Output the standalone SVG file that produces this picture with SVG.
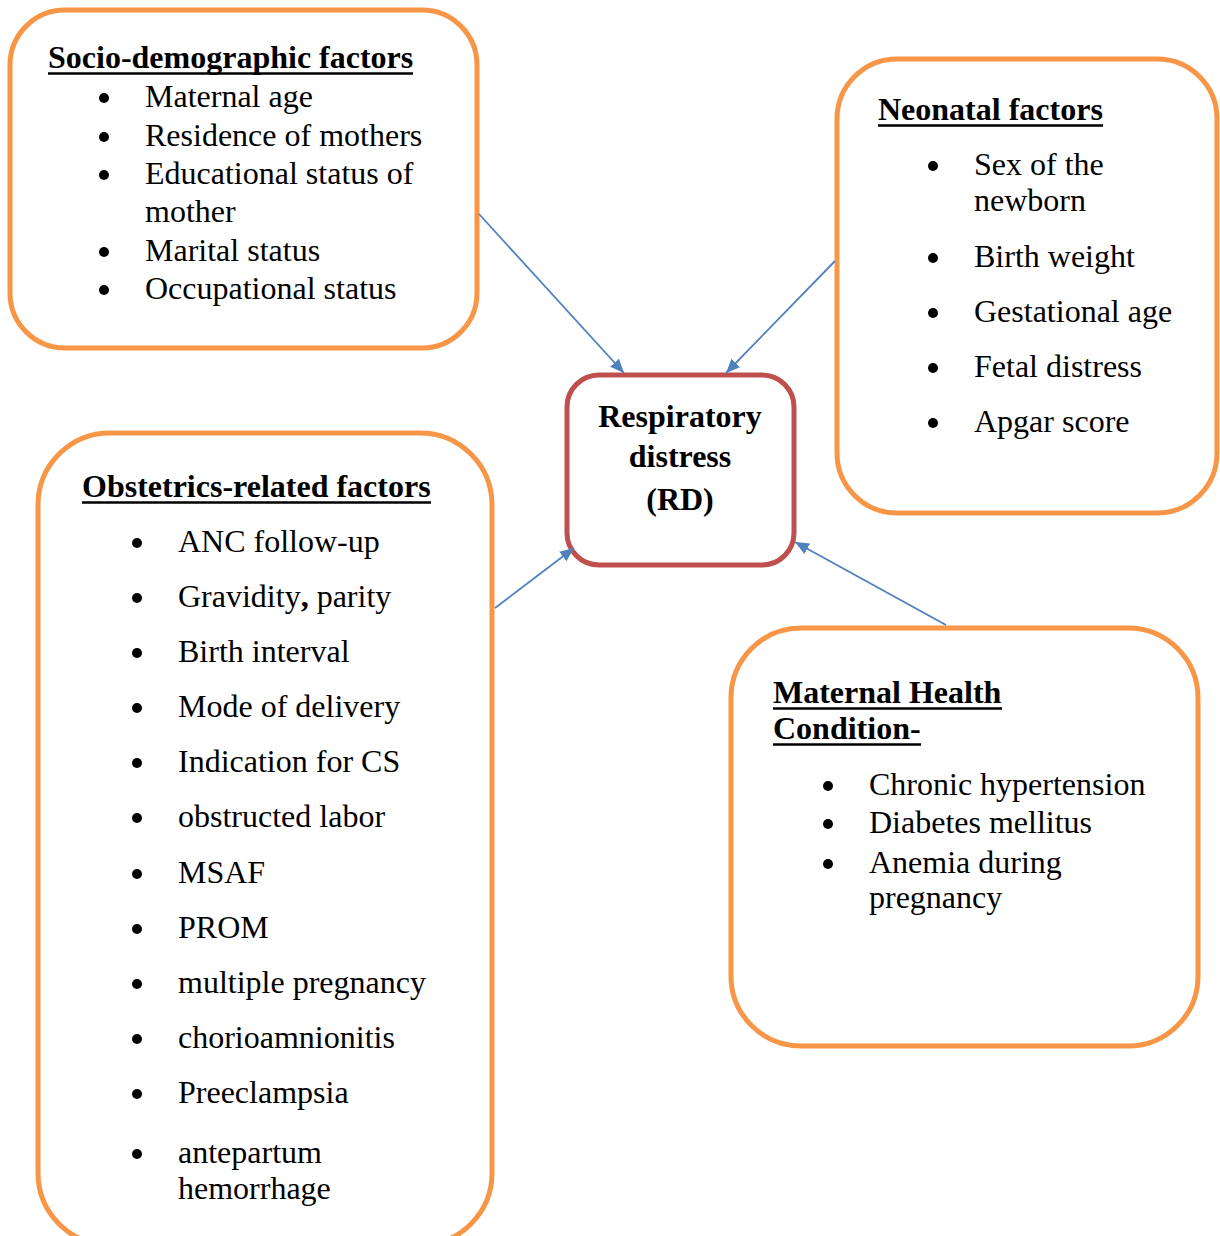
<svg xmlns="http://www.w3.org/2000/svg" width="1220" height="1236" viewBox="0 0 1220 1236">
<style>
.box{fill:#fff;stroke:#F79646;stroke-width:5}
.core{fill:#fff;stroke:#C0504D;stroke-width:5}
.t{font-family:"Liberation Serif","Times New Roman",serif;font-size:32px;fill:#000}
.h{font-family:"Liberation Serif","Times New Roman",serif;font-size:32px;font-weight:bold;fill:#000}
.ul{stroke:#000;stroke-width:2.5}
.b{fill:#000}
.c{stroke:#4F81BD;stroke-width:1.8;fill:none;marker-end:url(#ah)}
</style>
<defs>
<marker id="ah" markerUnits="userSpaceOnUse" markerWidth="16" markerHeight="14" refX="14" refY="6" orient="auto">
<path d="M0,0 L14,6 L0,12 Z" fill="#4F81BD"/>
</marker>
</defs>
<rect width="1220" height="1236" fill="#fff"/>

<g id="socio">
<rect class="box" x="10" y="10" width="467" height="338" rx="55"/>
<text class="h" x="48" y="68">Socio-demographic factors</text>
<line class="ul" x1="48" y1="73.5" x2="413" y2="73.5"/>
<circle class="b" cx="104" cy="98" r="5"/><text class="t" x="145" y="107">Maternal age</text>
<circle class="b" cx="104" cy="137" r="5"/><text class="t" x="145" y="146">Residence of mothers</text>
<circle class="b" cx="104" cy="175" r="5"/><text class="t" x="145" y="184">Educational status of</text>
<text class="t" x="145" y="222">mother</text>
<circle class="b" cx="104" cy="252" r="5"/><text class="t" x="145" y="261">Marital status</text>
<circle class="b" cx="104" cy="290" r="5"/><text class="t" x="145" y="299">Occupational status</text>
</g>

<g id="neonatal">
<rect class="box" x="837" y="59" width="380" height="454" rx="60"/>
<text class="h" x="878" y="120">Neonatal factors</text>
<line class="ul" x1="878" y1="125.5" x2="1103" y2="125.5"/>
<circle class="b" cx="933" cy="166" r="5"/><text class="t" x="974" y="175">Sex of the</text>
<text class="t" x="974" y="211">newborn</text>
<circle class="b" cx="933" cy="258" r="5"/><text class="t" x="974" y="267">Birth weight</text>
<circle class="b" cx="933" cy="313" r="5"/><text class="t" x="974" y="322">Gestational age</text>
<circle class="b" cx="933" cy="368" r="5"/><text class="t" x="974" y="377">Fetal distress</text>
<circle class="b" cx="933" cy="423" r="5"/><text class="t" x="974" y="432">Apgar score</text>
</g>

<g id="rd">
<rect class="core" x="567" y="375" width="227" height="190" rx="32"/>
<text class="h" x="680" y="427" text-anchor="middle">Respiratory</text>
<text class="h" x="680" y="467" text-anchor="middle">distress</text>
<text class="h" x="680" y="510" text-anchor="middle">(RD)</text>
</g>

<g id="obstetrics">
<rect class="box" x="38" y="433" width="454" height="812" rx="72"/>
<text class="h" x="82" y="497">Obstetrics-related factors</text>
<line class="ul" x1="82" y1="502.5" x2="431" y2="502.5"/>
<circle class="b" cx="137" cy="543" r="5"/><text class="t" x="178" y="552">ANC follow-up</text>
<circle class="b" cx="137" cy="598" r="5"/><text class="t" x="178" y="607">Gravidity<tspan font-weight="bold">,</tspan> parity</text>
<circle class="b" cx="137" cy="653" r="5"/><text class="t" x="178" y="662">Birth interval</text>
<circle class="b" cx="137" cy="708" r="5"/><text class="t" x="178" y="717">Mode of delivery</text>
<circle class="b" cx="137" cy="763" r="5"/><text class="t" x="178" y="772">Indication for CS</text>
<circle class="b" cx="137" cy="818" r="5"/><text class="t" x="178" y="827">obstructed labor</text>
<circle class="b" cx="137" cy="874" r="5"/><text class="t" x="178" y="883">MSAF</text>
<circle class="b" cx="137" cy="929" r="5"/><text class="t" x="178" y="938">PROM</text>
<circle class="b" cx="137" cy="984" r="5"/><text class="t" x="178" y="993">multiple pregnancy</text>
<circle class="b" cx="137" cy="1039" r="5"/><text class="t" x="178" y="1048">chorioamnionitis</text>
<circle class="b" cx="137" cy="1094" r="5"/><text class="t" x="178" y="1103">Preeclampsia</text>
<circle class="b" cx="137" cy="1154" r="5"/><text class="t" x="178" y="1163">antepartum</text>
<text class="t" x="178" y="1199">hemorrhage</text>
</g>

<g id="maternal">
<rect class="box" x="731" y="628" width="467" height="418" rx="70"/>
<text class="h" x="773" y="703">Maternal Health</text>
<line class="ul" x1="773" y1="708.5" x2="1002" y2="708.5"/>
<text class="h" x="773" y="739">Condition-</text>
<line class="ul" x1="773" y1="744.5" x2="921" y2="744.5"/>
<circle class="b" cx="828" cy="786" r="5"/><text class="t" x="869" y="795">Chronic hypertension</text>
<circle class="b" cx="828" cy="824" r="5"/><text class="t" x="869" y="833">Diabetes mellitus</text>
<circle class="b" cx="828" cy="864" r="5"/><text class="t" x="869" y="873">Anemia during</text>
<text class="t" x="869" y="908">pregnancy</text>
</g>

<g id="connectors">
<line class="c" x1="479" y1="214" x2="624" y2="373"/>
<line class="c" x1="835" y1="261" x2="726" y2="373"/>
<line class="c" x1="495" y1="608" x2="574" y2="548"/>
<line class="c" x1="946" y1="625" x2="795" y2="542"/>
</g>
</svg>
